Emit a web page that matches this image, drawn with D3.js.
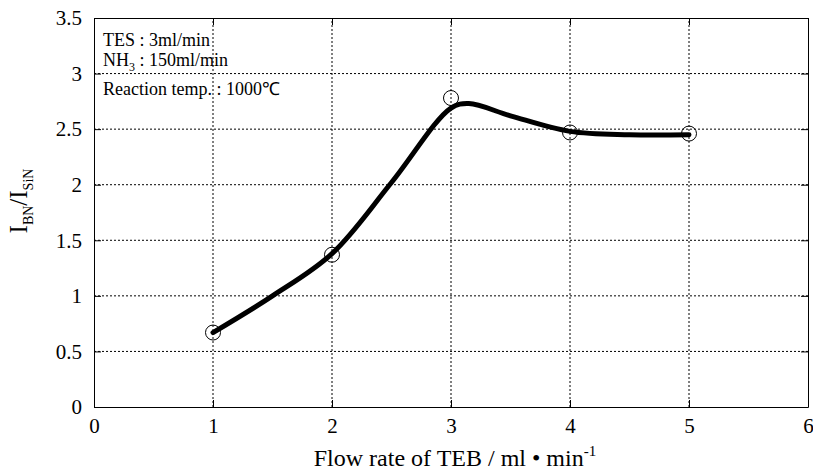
<!DOCTYPE html>
<html>
<head>
<meta charset="utf-8">
<script src="https://cdn.jsdelivr.net/npm/d3@7"></script>
<style>
  body { margin: 0; background: #fff; }
  text { font-family: "Liberation Serif", "Times New Roman", serif; fill: #000; }
</style>
</head>
<body>
<svg id="chart" width="813" height="471"></svg>
<script>
// measured points
const flowRate = [1, 2, 3, 4, 5];
const ratio = [0.67, 1.37, 2.78, 2.47, 2.46];

// smooth fitted curve
const curveX = [1, 1.5, 2, 2.5, 3, 3.15, 3.5, 4, 4.5, 5];
const curveY = [0.67, 1.0, 1.38, 2.02, 2.69, 2.73, 2.62, 2.48, 2.45, 2.45];

const xTicks = [0, 1, 2, 3, 4, 5, 6];
const yTicks = [0, 0.5, 1, 1.5, 2, 2.5, 3, 3.5];

const margin = { left: 94, right: 5, top: 18, bottom: 64 };
const width = 813, height = 471;

const svg = d3.select('#chart');

const x = d3.scaleLinear().domain([0, 6]).range([margin.left, width - margin.right]);
const y = d3.scaleLinear().domain([0, 3.5]).range([height - margin.bottom, margin.top]);

// grid
const grid = svg.append('g');
grid.selectAll('.gx').data(xTicks.slice(1, -1)).enter().append('line')
  .attr('x1', d => x(d)).attr('x2', d => x(d))
  .attr('y1', y(0)).attr('y2', y(3.5))
  .attr('stroke', '#000').attr('stroke-width', 1).attr('stroke-dasharray', '2,2');
grid.selectAll('.gy').data(yTicks.slice(1, -1)).enter().append('line')
  .attr('x1', x(0)).attr('x2', x(6))
  .attr('y1', d => y(d)).attr('y2', d => y(d))
  .attr('stroke', '#000').attr('stroke-width', 1).attr('stroke-dasharray', '2,2');

// axes (ticks inward)
svg.append('g').attr('transform', `translate(0,${y(0)})`)
  .call(d3.axisBottom(x).tickValues(xTicks).tickSizeInner(-7).tickSizeOuter(0).tickPadding(11).tickFormat(d3.format('d')))
  .call(g => g.selectAll('text').attr('font-size', 21))
  .call(g => g.selectAll('path,line').attr('stroke', '#000'));
svg.append('g').attr('transform', `translate(0,${y(3.5)})`)
  .call(d3.axisTop(x).tickValues(xTicks).tickSizeInner(-7).tickSizeOuter(0).tickFormat(''));
svg.append('g').attr('transform', `translate(${x(0)},0)`)
  .call(d3.axisLeft(y).tickValues(yTicks).tickSizeInner(-7).tickSizeOuter(0).tickPadding(12).tickFormat(d => d))
  .call(g => g.selectAll('text').attr('font-size', 21))
  .call(g => g.selectAll('path,line').attr('stroke', '#000'));
svg.append('g').attr('transform', `translate(${x(6)},0)`)
  .call(d3.axisRight(y).tickValues(yTicks).tickSizeInner(-7).tickSizeOuter(0).tickFormat(''));

// fitted curve
const line = d3.line().x(d => x(d[0])).y(d => y(d[1])).curve(d3.curveCatmullRom.alpha(0.5));
svg.append('path')
  .datum(d3.zip(curveX, curveY))
  .attr('d', line)
  .attr('fill', 'none').attr('stroke', '#000').attr('stroke-width', 5)
  .attr('stroke-linecap', 'round');

// markers
svg.selectAll('.pt').data(d3.zip(flowRate, ratio)).enter().append('circle')
  .attr('cx', d => x(d[0])).attr('cy', d => y(d[1])).attr('r', 7.5)
  .attr('fill', 'none').attr('stroke', '#000').attr('stroke-width', 1);

// annotation
const note = svg.append('g').attr('font-size', 18);
note.append('text').attr('x', 103).attr('y', 46).text('TES : 3ml/min');
const nh = note.append('text').attr('x', 103).attr('y', 66);
nh.append('tspan').text('NH');
nh.append('tspan').attr('dy', 5).attr('font-size', 12).text('3');
nh.append('tspan').attr('dy', -5).text(' : 150ml/min');
note.append('text').attr('x', 103).attr('y', 95).text('Reaction temp. : 1000\u2103');

// axis titles
const xt = svg.append('text').attr('x', 455).attr('y', 466).attr('text-anchor', 'middle').attr('font-size', 24);
xt.append('tspan').text('Flow rate of TEB / ml \u2022 min');
xt.append('tspan').attr('dy', -10).attr('font-size', 15).text('-1');

const yt = svg.append('text').attr('transform', 'translate(27,201) rotate(-90)').attr('text-anchor', 'middle').attr('font-size', 25);
yt.append('tspan').text('I');
yt.append('tspan').attr('dy', 6).attr('font-size', 14).text('BN');
yt.append('tspan').attr('dy', -6).text('/I');
yt.append('tspan').attr('dy', 6).attr('font-size', 14).text('SiN');
</script>
</body>
</html>
